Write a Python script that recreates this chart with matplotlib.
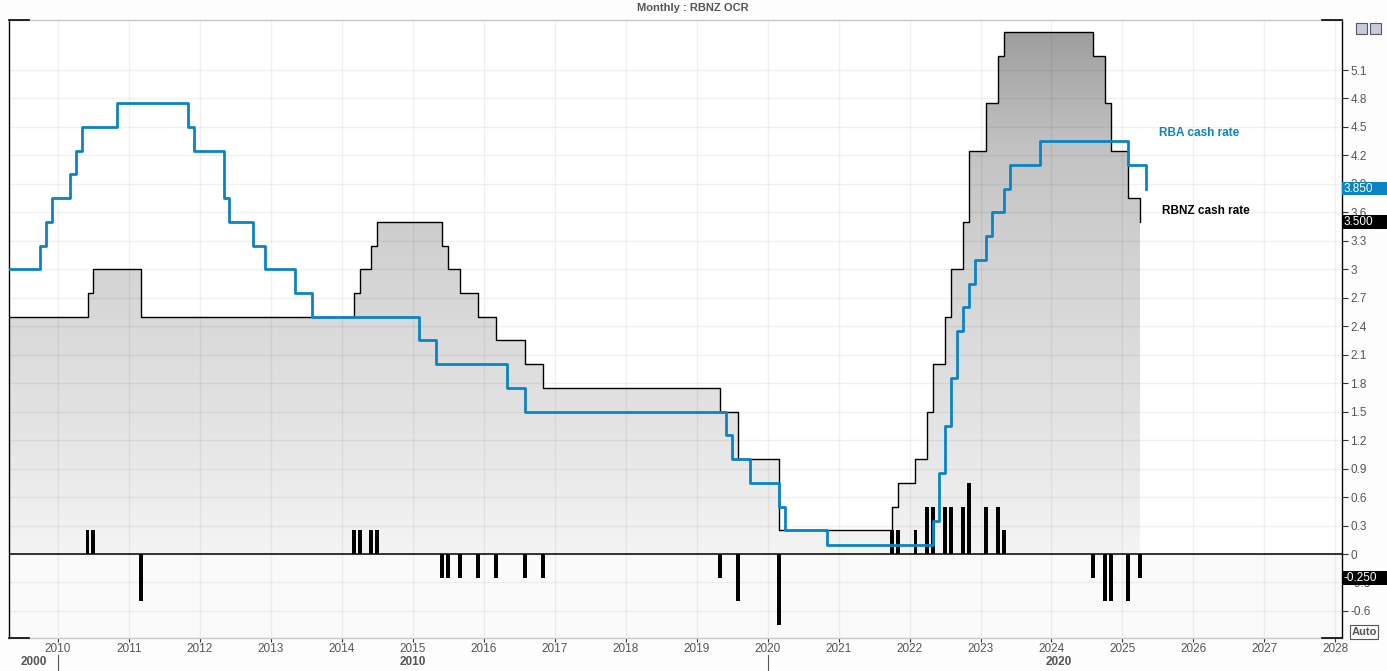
import numpy as np
import matplotlib
matplotlib.use("Agg")
import matplotlib.pyplot as plt
from matplotlib.colors import LinearSegmentedColormap
from matplotlib.patches import Rectangle

plt.rcParams['font.family'] = ['Liberation Sans', 'DejaVu Sans']

# RBNZ OCR: month of change, new level
rbnz_months = ["2009-04", "2010-06", "2010-07", "2011-03", "2014-03", "2014-04",
               "2014-06", "2014-07", "2015-06", "2015-07", "2015-09", "2015-12",
               "2016-03", "2016-08", "2016-11", "2019-05", "2019-08", "2020-03",
               "2021-10", "2021-11", "2022-02", "2022-04", "2022-05", "2022-07",
               "2022-08", "2022-10", "2022-11", "2023-02", "2023-04", "2023-05",
               "2024-08", "2024-10", "2024-11", "2025-02", "2025-04"]
rbnz_rates = [2.5, 2.75, 3.0, 2.5, 2.75, 3.0, 3.25, 3.5, 3.25, 3.0, 2.75, 2.5,
              2.25, 2.0, 1.75, 1.5, 1.0, 0.25, 0.5, 0.75, 1.0, 1.5, 2.0, 2.5,
              3.0, 3.5, 4.25, 4.75, 5.25, 5.5, 5.25, 4.75, 4.25, 3.75, 3.5]

# RBA cash rate: month of change, new level
rba_months = ["2009-04", "2009-10", "2009-11", "2009-12", "2010-03", "2010-04",
              "2010-05", "2010-11", "2011-11", "2011-12", "2012-05", "2012-06",
              "2012-10", "2012-12", "2013-05", "2013-08", "2015-02", "2015-05",
              "2016-05", "2016-08", "2019-06", "2019-07", "2019-10", "2020-03",
              "2020-04", "2020-11", "2022-05", "2022-06", "2022-07", "2022-08",
              "2022-09", "2022-10", "2022-11", "2022-12", "2023-02", "2023-03",
              "2023-05", "2023-06", "2023-11", "2025-02", "2025-05"]
rba_rates = [3.0, 3.25, 3.5, 3.75, 4.0, 4.25, 4.5, 4.75, 4.5, 4.25, 3.75, 3.5,
             3.25, 3.0, 2.75, 2.5, 2.25, 2.0, 1.75, 1.5, 1.25, 1.0, 0.75, 0.5,
             0.25, 0.1, 0.35, 0.85, 1.35, 1.85, 2.35, 2.6, 2.85, 3.1, 3.35, 3.6,
             3.85, 4.1, 4.35, 4.1, 3.85]

year_ticks = list(range(2010, 2029))
y_ticks = [-0.6, -0.3, 0, 0.3, 0.6, 0.9, 1.2, 1.5, 1.8, 2.1, 2.4, 2.7, 3,
           3.3, 3.6, 3.9, 4.2, 4.5, 4.8, 5.1]


def to_year(m):
    y, mo = m.split("-")
    return int(y) + (int(mo) - 1) / 12.0


rbnz_x = np.array([to_year(m) for m in rbnz_months])
rbnz_y = np.array(rbnz_rates)
rba_x = np.array([to_year(m) for m in rba_months])
rba_y = np.array(rba_rates)
chg_x = rbnz_x[1:]
chg_y = np.diff(rbnz_y)

XMIN, XMAX = 2009.31, 2028.094
YMIN, YMAX = -0.885, 5.627
BLUE = "#0a84c6"
GREY_TXT = "#555555"

fig = plt.figure(figsize=(13.87, 6.71), dpi=100)
fig.patch.set_facecolor("#fdfdfd")
ax = fig.add_axes([9 / 1387, 1 - 638 / 671, (1342 - 9) / 1387, (638 - 20) / 671])
ax.set_facecolor("white")

# background below zero
ax.axhspan(YMIN, 0, color="#fafafa", zorder=0, lw=0)

# gradient fill under the RBNZ line
poly = ax.fill_between(rbnz_x, rbnz_y, 0, step="post", facecolor="none",
                       edgecolor="none")
cmap = LinearSegmentedColormap.from_list(
    "g", [(0.0, "#f4f4f4"), (1.5 / YMAX, "#e2e2e2"), (3.0 / YMAX, "#d4d4d4"),
          (4.3 / YMAX, "#c2c2c2"), (5.5 / YMAX, "#9e9e9e"), (1.0, "#9a9a9a")])
grad = np.linspace(0, 1, 256).reshape(-1, 1)
im = ax.imshow(grad, extent=[XMIN, XMAX, 0, YMAX], origin="lower",
               aspect="auto", cmap=cmap, zorder=1, interpolation="bilinear")
im.set_clip_path(poly.get_paths()[0], transform=ax.transData)

# grid
for xt in year_ticks:
    ax.axvline(xt, color="black", alpha=0.055, lw=1, zorder=1.5)
for yt in y_ticks:
    ax.axhline(yt, color="black", alpha=0.055, lw=1, zorder=1.5)

# change bars
ax.bar(chg_x, chg_y, width=0.055, color="black", zorder=3)
ax.axhline(0, color="black", lw=1.1, zorder=3)

# lines
ax.step(rbnz_x, rbnz_y, where="post", color="black", lw=1.0, zorder=4)
ax.step(rba_x, rba_y, where="post", color=BLUE, lw=2.0, zorder=5)

ax.set_xlim(XMIN, XMAX)
ax.set_ylim(YMIN, YMAX)

# axes frame
for s in ["left", "right"]:
    ax.spines[s].set_color("black")
    ax.spines[s].set_linewidth(1.0)
for s in ["top", "bottom"]:
    ax.spines[s].set_color("#c8c8c8")
    ax.spines[s].set_linewidth(1.0)
cw = 20 / 1333
for yy in (0, 1):
    ax.plot([0, cw], [yy, yy], transform=ax.transAxes, color="black", lw=1.2,
            clip_on=False, zorder=6)
    ax.plot([1 - cw, 1], [yy, yy], transform=ax.transAxes, color="black",
            lw=1.2, clip_on=False, zorder=6)

ax.yaxis.tick_right()
ax.set_yticks(y_ticks)
ax.set_yticklabels([f"{v:g}" for v in y_ticks])
ax.tick_params(axis="y", direction="out", length=4, width=0.8, colors="#333333",
               labelcolor=GREY_TXT, labelsize=8.5, pad=2)
ax.set_xticks(year_ticks)
ax.set_xticklabels([str(y) for y in year_ticks])
ax.tick_params(axis="x", direction="out", length=3, width=0.8, colors="#333333",
               labelcolor=GREY_TXT, labelsize=8.5, pad=0.5)

# value boxes on the right
for val, txt, col in [(3.85, "3.850", BLUE), (3.5, "3.500", "black"),
                      (-0.25, "-0.250", "black")]:
    ax.add_patch(Rectangle((1.0, val - 0.072), 45 / 1333, 0.144,
                           transform=ax.get_yaxis_transform(), facecolor=col,
                           edgecolor="none", clip_on=False, zorder=6.5))
    ax.text(1.001, val, txt, transform=ax.get_yaxis_transform(), ha="left",
            va="center", color="white", fontsize=8.5, clip_on=False, zorder=7)

# series labels
ax.text(2025.52, 4.436, "RBA cash rate", color=BLUE, fontsize=8.5,
        fontweight="bold", ha="left", va="center", zorder=7)
ax.text(2025.56, 3.614, "RBNZ cash rate", color="black", fontsize=8.5,
        fontweight="bold", ha="left", va="center", zorder=7)

# decade labels
tr = ax.get_xaxis_transform()
for xd, lab in [(2009.66, "2000"), (2015.0, "2010"), (2024.1, "2020")]:
    ax.text(xd, -24 / 618, lab, transform=tr, ha="center", va="center",
            fontsize=8.5, fontweight="bold", color=GREY_TXT, clip_on=False)
for xs in (2010, 2020):
    ax.plot([xs, xs], [-17 / 618, -33 / 618], transform=tr, color="#555555",
            lw=0.8, clip_on=False)

# title
fig.text(0.4996, 1 - 8 / 671, "Monthly : RBNZ OCR", ha="center", va="center",
         fontsize=8, fontweight="bold", color=GREY_TXT)

# small window icons and Auto box
for x0 in (1356, 1370):
    fig.add_artist(Rectangle((x0 / 1387, 1 - 34 / 671), 11 / 1387, 11 / 671,
                             transform=fig.transFigure, facecolor="#c8ccd8",
                             edgecolor="#555566", lw=0.8))
fig.text(1364 / 1387, 1 - 632 / 671, "Auto", ha="center", va="center",
         fontsize=8, fontweight="bold", color=GREY_TXT,
         bbox=dict(boxstyle="square,pad=0.15", facecolor="white",
                   edgecolor=GREY_TXT, lw=0.8))

fig.savefig("out.png", dpi=100, facecolor=fig.get_facecolor())
